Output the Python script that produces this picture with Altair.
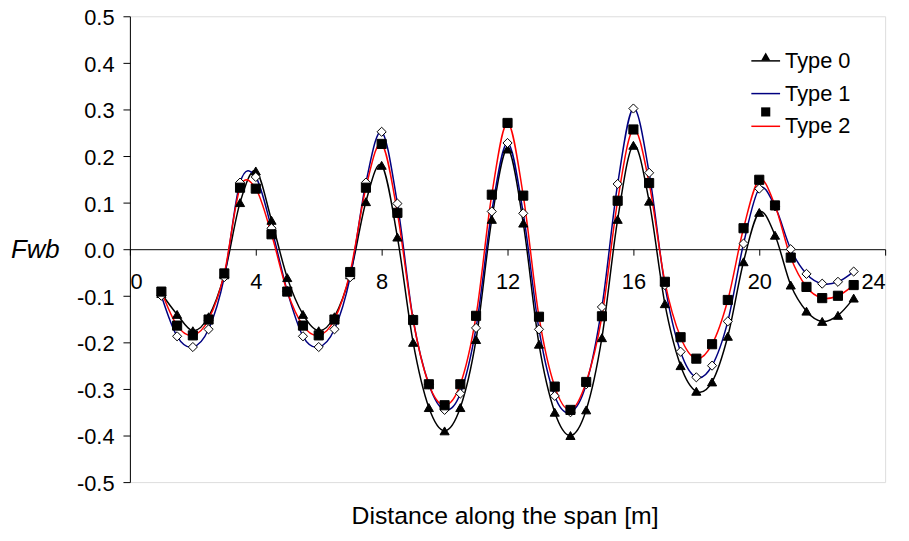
import altair as alt
import pandas as pd

# ---- data ----
x_vals = [1.0, 1.5, 2.0, 2.5, 3.0, 3.5, 4.0, 4.5, 5.0, 5.5, 6.0, 6.5, 7.0, 7.5, 8.0,
          8.5, 9.0, 9.5, 10.0, 10.5, 11.0, 11.5, 12.0, 12.5, 13.0, 13.5, 14.0, 14.5,
          15.0, 15.5, 16.0, 16.5, 17.0, 17.5, 18.0, 18.5, 19.0, 19.5, 20.0, 20.5,
          21.0, 21.5, 22.0, 22.5, 23.0]

type0 = [-0.095, -0.14, -0.175, -0.145, -0.055, 0.10, 0.168, 0.062, -0.061, -0.14,
         -0.175, -0.145, -0.055, 0.102, 0.18, 0.026, -0.20, -0.34, -0.39, -0.34,
         -0.194, 0.064, 0.215, 0.056, -0.204, -0.35, -0.40, -0.345, -0.19, 0.064,
         0.223, 0.103, -0.117, -0.25, -0.305, -0.285, -0.187, -0.027, 0.079, 0.03,
         -0.077, -0.133, -0.155, -0.142, -0.105]

type1 = [-0.10, -0.187, -0.21, -0.172, -0.06, 0.143, 0.155, 0.045, -0.09, -0.187,
         -0.21, -0.172, -0.06, 0.143, 0.252, 0.098, -0.15, -0.29, -0.345, -0.31,
         -0.169, 0.081, 0.228, 0.077, -0.172, -0.315, -0.35, -0.29, -0.124, 0.14,
         0.302, 0.164, -0.077, -0.22, -0.275, -0.25, -0.155, 0.012, 0.13, 0.092,
         0.0, -0.053, -0.074, -0.07, -0.048]

type2 = [-0.091, -0.164, -0.185, -0.151, -0.052, 0.132, 0.13, 0.032, -0.091, -0.164,
         -0.185, -0.151, -0.049, 0.132, 0.226, 0.078, -0.152, -0.29, -0.335, -0.29,
         -0.143, 0.117, 0.271, 0.115, -0.145, -0.295, -0.345, -0.285, -0.144, 0.104,
         0.257, 0.142, -0.07, -0.189, -0.235, -0.204, -0.109, 0.045, 0.149, 0.094,
         -0.018, -0.081, -0.105, -0.10, -0.077]

series_names = ["Type 0", "Type 1", "Type 2"]
line_colors = ["#000000", "#000080", "#FF0000"]
marker_shapes = ["triangle-up", "diamond", "square"]
marker_fills = ["#000000", "#FFFFFF", "#000000"]
x_ticks = [0, 4, 8, 12, 16, 20, 24]
y_ticks = [-0.5, -0.4, -0.3, -0.2, -0.1, 0.0, 0.1, 0.2, 0.3, 0.4, 0.5]

rows = []
for name, vals in zip(series_names, [type0, type1, type2]):
    for xv, yv in zip(x_vals, vals):
        rows.append({"x": xv, "y": yv, "series": name, "marker": name})
df = pd.DataFrame(rows)

FONT = "Liberation Sans"
W, H = 762, 470

x_enc = alt.X(
    "x:Q",
    scale=alt.Scale(domain=[0, 24], nice=False, zero=False),
    axis=alt.Axis(
        values=x_ticks, offset=-H / 2, grid=False,
        domainColor="#000000", tickColor="#000000", tickSize=6,
        labelFontSize=22, labelFont=FONT, labelColor="#000000", labelPadding=17,
        title="Distance along the span [m]", titleFont=FONT, titleFontSize=25,
        titleFontWeight="normal", titleColor="#000000",
        titleX=W / 2 - 3, titleY=277, titleBaseline="alphabetic", titleAnchor="middle",
    ),
)
y_enc = alt.Y(
    "y:Q",
    scale=alt.Scale(domain=[-0.5, 0.5], nice=False, zero=False),
    axis=alt.Axis(
        values=y_ticks, grid=False,
        labelExpr="(datum.value < -1e-9 ? '-' : '') + format(abs(datum.value), '.1f')",
        domainColor="#000000", tickColor="#000000", tickSize=7,
        labelFontSize=22, labelFont=FONT, labelColor="#000000", labelPadding=9,
        labelOffset=1.5,
        title="Fwb", titleFont=FONT, titleFontSize=26, titleFontStyle="italic",
        titleFontWeight="normal", titleColor="#000000", titleAngle=0,
        titleX=-96, titleY=H / 2, titleAlign="center", titleBaseline="middle",
    ),
)

legend_common = dict(
    orient="none", title=None, padding=0, rowPadding=6,
    labelFont=FONT, labelFontSize=22, labelColor="#000000",
    legendY=29.5,
)

lines = alt.Chart(df).mark_line(interpolate="cardinal", strokeWidth=1.5).encode(
    x=x_enc,
    y=y_enc,
    color=alt.Color(
        "series:N",
        scale=alt.Scale(domain=series_names, range=line_colors),
        legend=alt.Legend(symbolType="stroke", symbolSize=841, symbolStrokeWidth=1.5,
                          legendX=626, **legend_common),
    ),
)

marker_legend = alt.Legend(symbolSize=85, symbolStrokeWidth=1, symbolStrokeColor="#000000",
                           labelExpr="''", legendX=630.5, **legend_common)

points = alt.Chart(df).mark_point(
    filled=True, size=85, stroke="#000000", strokeWidth=1, opacity=1
).encode(
    x=x_enc,
    y=y_enc,
    shape=alt.Shape("marker:N", scale=alt.Scale(domain=series_names, range=marker_shapes),
                    legend=marker_legend),
    fill=alt.Fill("marker:N", scale=alt.Scale(domain=series_names, range=marker_fills),
                  legend=marker_legend),
)

chart = alt.layer(lines, points).resolve_legend(color="independent").properties(
    width=W, height=H,
    autosize=alt.AutoSizeParams(type="none"),
    padding={"left": 123, "top": 6, "right": 16, "bottom": 50},
).configure_view(stroke="#808080", strokeWidth=1).configure(background="white")

chart.save("out.html", embed_options={"renderer": "svg", "actions": False})
